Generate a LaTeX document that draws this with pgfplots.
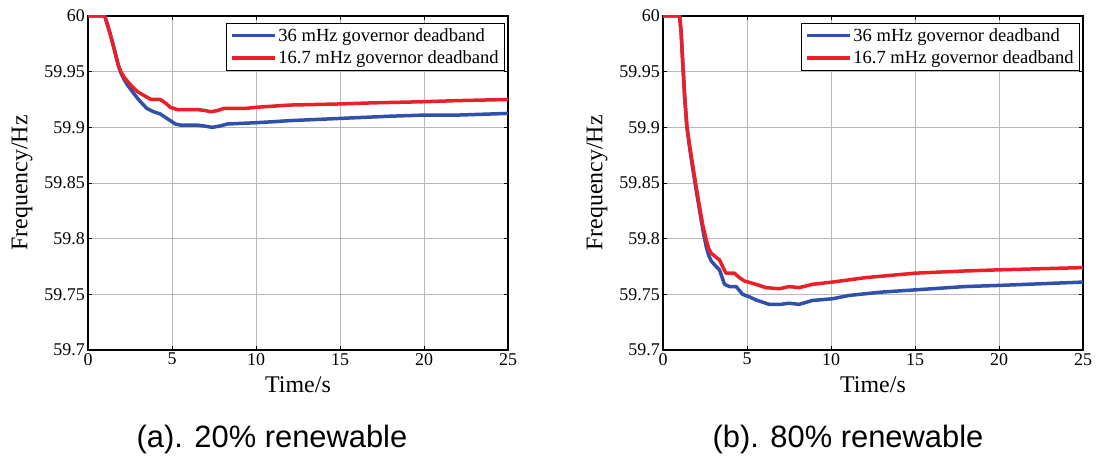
\documentclass[border=0pt]{standalone}
\usepackage{fontspec}
\setmainfont{Liberation Serif}
\newfontfamily\capfont{Liberation Sans}
\usepackage{pgfplots}
\pgfplotsset{compat=1.18}
\definecolor{cblue}{RGB}{48,80,170}
\definecolor{cred}{RGB}{236,30,40}
\pgfplotsset{
  myax/.style={
    scale only axis, width=420bp, height=334bp,
    xmin=0, xmax=25, ymin=59.7, ymax=60,
    xtick={0,5,10,15,20,25},
    xticklabels={0,5,10,15,20,25},
    ytick={59.7,59.75,59.8,59.85,59.9,59.95,60},
    yticklabels={59.7,59.75,59.8,59.85,59.9,59.95,60},
    /pgf/number format/assume math mode=true,
    tick label style={font=\rmfamily\fontsize{18}{20}\selectfont},
    yticklabel style={inner xsep=3bp},
    xticklabel style={inner ysep=3bp},
    tick align=inside, major tick length=4bp,
    axis line style={line width=1.3bp},
    every tick/.style={black, line width=0.6bp},
    grid=major, major grid style={gray!55, line width=0.6bp},
    xlabel={Time/s}, ylabel={Frequency/Hz},
    label style={font=\rmfamily\fontsize{24}{26}\selectfont},
    xlabel style={at={(axis description cs:0.5,-0.105)}, anchor=center},
    ylabel style={at={(axis description cs:-0.157,0.5)}, anchor=center, rotate=0},
    legend cell align=left,
    legend style={at={(axis description cs:0.993,0.979)}, anchor=north east,
      font=\rmfamily\fontsize{18.6}{21}\selectfont, draw=black, line width=0.8bp,
      inner xsep=4bp, inner ysep=3bp, row sep=4bp},
    legend image code/.code={\draw[#1, line width=3.5bp] (0cm,0cm) -- (43bp,0cm);},
    every axis plot/.append style={line width=3.5bp, line join=round},
  }
}
\begin{document}
\begin{tikzpicture}
\useasboundingbox (0,0) rectangle (1096bp,462bp);
\begin{axis}[myax, at={(88bp,112bp)}, anchor=south west]
\addplot[cblue] coordinates {(0,60)(1,60)(1.3,59.985)(1.6,59.968)(1.8,59.956)(1.95,59.949)(2.15,59.943)(2.35,59.938)(2.65,59.932)(2.95,59.926)(3.25,59.921)(3.5,59.917)(3.9,59.914)(4.3,59.912)(4.6,59.909)(4.9,59.906)(5.2,59.903)(5.5,59.902)(6.5,59.902)(7.0,59.901)(7.4,59.900)(7.8,59.901)(8.3,59.903)(9.8,59.904)(11,59.905)(12,59.906)(15,59.908)(18,59.910)(20,59.911)(22,59.911)(25,59.9125)};
\addlegendentry{36 mHz governor deadband}
\addplot[cred] coordinates {(0,60)(1,60)(1.3,59.985)(1.6,59.968)(1.8,59.956)(1.95,59.950)(2.2,59.944)(2.6,59.937)(2.95,59.932)(3.4,59.928)(3.75,59.925)(4.3,59.925)(4.6,59.922)(4.9,59.918)(5.3,59.916)(6.5,59.916)(7.0,59.915)(7.3,59.914)(7.7,59.915)(8.1,59.917)(9.4,59.917)(10,59.918)(11,59.919)(12,59.920)(15,59.921)(17,59.922)(20,59.923)(22,59.924)(25,59.925)};
\addlegendentry{16.7 mHz governor deadband}
\end{axis}
\begin{axis}[myax, at={(663bp,112bp)}, anchor=south west]
\addplot[cblue] coordinates {(0,60)(0.99,60)(1.08,59.985)(1.19,59.954)(1.3,59.925)(1.42,59.901)(1.6,59.880)(1.78,59.862)(1.98,59.843)(2.17,59.826)(2.37,59.808)(2.57,59.793)(2.72,59.785)(2.87,59.780)(3.1,59.776)(3.36,59.772)(3.5,59.766)(3.66,59.759)(3.95,59.757)(4.35,59.757)(4.74,59.750)(5.1,59.748)(5.53,59.745)(6.32,59.741)(7.0,59.741)(7.5,59.742)(8.1,59.741)(8.9,59.7445)(10.08,59.746)(11.07,59.749)(13,59.752)(15,59.754)(18,59.757)(20,59.758)(25,59.761)};
\addlegendentry{36 mHz governor deadband}
\addplot[cred] coordinates {(0,60)(0.99,60)(1.08,59.985)(1.19,59.954)(1.3,59.925)(1.42,59.901)(1.6,59.882)(1.78,59.865)(1.98,59.846)(2.17,59.829)(2.37,59.812)(2.57,59.799)(2.72,59.791)(2.87,59.787)(3.1,59.784)(3.36,59.781)(3.55,59.775)(3.75,59.769)(4.25,59.769)(4.55,59.765)(4.84,59.762)(5.53,59.759)(6.13,59.756)(6.92,59.755)(7.5,59.757)(8.1,59.756)(8.9,59.759)(10.08,59.761)(12.06,59.765)(15,59.769)(18,59.771)(20,59.772)(25,59.774)};
\addlegendentry{16.7 mHz governor deadband}
\end{axis}
\node[font=\capfont\fontsize{31}{33}\selectfont] at (272bp,22bp) {(a). 20\% renewable};
\node[font=\capfont\fontsize{31}{33}\selectfont] at (848bp,22bp) {(b). 80\% renewable};
\end{tikzpicture}
\end{document}
